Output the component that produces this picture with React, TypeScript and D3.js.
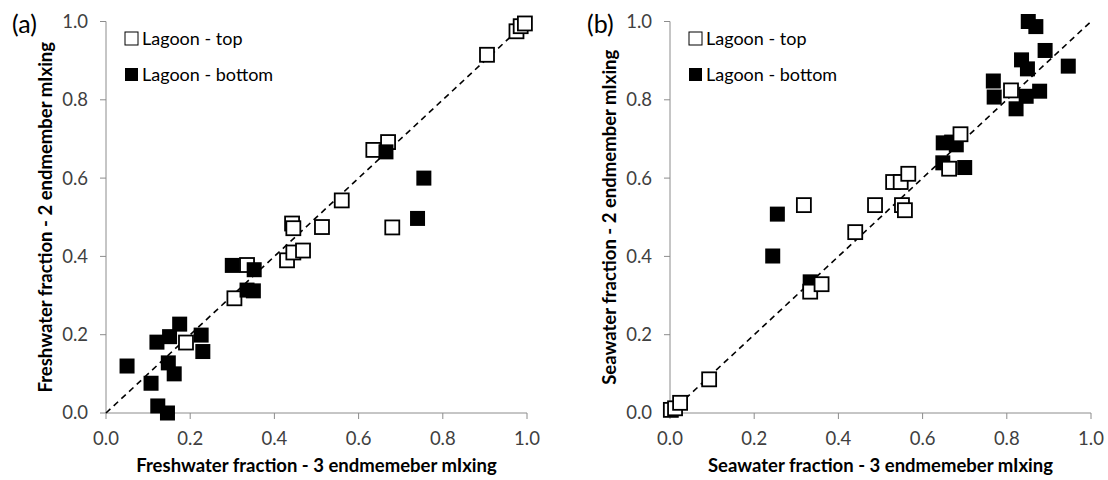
import React from "react";
import * as d3 from "d3";

// panel (a): freshwater fraction, [3 endmember, 2 endmember]
const freshTop: [number, number][] = [
  [0.19, 0.18], [0.305, 0.293], [0.335, 0.378], [0.43, 0.39], [0.445, 0.41],
  [0.468, 0.415], [0.442, 0.484], [0.445, 0.472], [0.513, 0.475], [0.56, 0.543],
  [0.635, 0.672], [0.67, 0.692], [0.68, 0.474], [0.905, 0.915], [0.975, 0.975],
  [0.985, 0.988], [0.995, 0.995],
];
const freshBottom: [number, number][] = [
  [0.05, 0.12], [0.107, 0.076], [0.123, 0.018], [0.146, 0.0], [0.121, 0.181],
  [0.151, 0.195], [0.175, 0.227], [0.148, 0.128], [0.162, 0.1], [0.226, 0.199],
  [0.23, 0.157], [0.3, 0.377], [0.335, 0.314], [0.35, 0.312], [0.352, 0.366],
  [0.665, 0.667], [0.74, 0.497], [0.755, 0.6],
];

// panel (b): seawater fraction
const seaTop: [number, number][] = [
  [0.002, 0.008], [0.012, 0.012], [0.024, 0.026], [0.093, 0.086], [0.333, 0.31],
  [0.36, 0.329], [0.318, 0.531], [0.44, 0.462], [0.487, 0.531], [0.53, 0.59],
  [0.548, 0.59], [0.566, 0.611], [0.551, 0.531], [0.558, 0.518], [0.663, 0.624],
  [0.69, 0.712], [0.81, 0.824],
];
const seaBottom: [number, number][] = [
  [0.244, 0.401], [0.255, 0.508], [0.333, 0.335], [0.649, 0.69], [0.669, 0.692],
  [0.648, 0.639], [0.68, 0.685], [0.7, 0.627], [0.768, 0.848], [0.77, 0.807],
  [0.822, 0.777], [0.846, 0.809], [0.878, 0.822], [0.835, 0.902], [0.849, 0.879],
  [0.851, 1.0], [0.869, 0.987], [0.891, 0.926], [0.946, 0.886],
];

const ticks = [0, 0.2, 0.4, 0.6, 0.8, 1.0];
const legendLabels = ["Lagoon - top", "Lagoon - bottom"];

const FONT = "Lato, 'Open Sans', sans-serif";
const AXIS = "#8c8c8c";
const SQ = 14;

interface PanelProps {
  left: number;
  tag: string;
  tagX: number;
  xTitle: string;
  yTitle: string;
  yTitleX: number;
  top: [number, number][];
  bottom: [number, number][];
  bottomFirst?: boolean;
}

const Panel = ({ left, tag, tagX, xTitle, yTitle, yTitleX, top, bottom, bottomFirst }: PanelProps) => {
  const x = d3.scaleLinear().domain([0, 1]).range([left, left + 421]);
  const y = d3.scaleLinear().domain([0, 1]).range([413, 21.5]);
  const diag = d3.line<number>().x((d) => x(d)).y((d) => y(d));

  const openSquares = top.map((d, i) => (
    <rect key={"t" + i} x={x(d[0]) - SQ / 2} y={y(d[1]) - SQ / 2} width={SQ} height={SQ}
      fill="#fff" stroke="#000" strokeWidth={1.8} />
  ));
  const filledSquares = bottom.map((d, i) => (
    <rect key={"b" + i} x={x(d[0]) - SQ / 2 - 0.5} y={y(d[1]) - SQ / 2 - 0.5} width={SQ + 1} height={SQ + 1}
      fill="#000" />
  ));

  const lx = x(0) + 19;
  return (
    <g fontFamily={FONT}>
      <text x={tagX} y={33} fontSize={25} fill="#000">{tag}</text>

      {/* axes */}
      <line x1={x(0)} x2={x(1)} y1={y(0)} y2={y(0)} stroke={AXIS} strokeWidth={1} />
      <line x1={x(0)} x2={x(0)} y1={y(0)} y2={y(1)} stroke={AXIS} strokeWidth={1} />
      {ticks.map((t) => (
        <g key={"x" + t}>
          <line x1={x(t)} x2={x(t)} y1={y(0)} y2={y(0) + 6} stroke={AXIS} />
          <text x={x(t)} y={445} textAnchor="middle" fontSize={18.5} fill="#404040">{t.toFixed(1)}</text>
        </g>
      ))}
      {ticks.map((t) => (
        <g key={"y" + t}>
          <line x1={x(0) - 6} x2={x(0)} y1={y(t)} y2={y(t)} stroke={AXIS} />
          <text x={x(0) - 18} y={y(t)} dy="0.35em" textAnchor="end" fontSize={18.5} fill="#404040">{t.toFixed(1)}</text>
        </g>
      ))}
      <text x={(x(0) + x(1)) / 2} y={472} textAnchor="middle" fontSize={18.5} fontWeight="bold" fill="#000">{xTitle}</text>
      <text transform={`translate(${yTitleX},${(y(0) + y(1)) / 2}) rotate(-90)`} textAnchor="middle"
        dy="0.35em" fontSize={18.5} fontWeight="bold" fill="#000">{yTitle}</text>

      {/* 1:1 line */}
      <path d={diag([0, 1]) ?? ""} stroke="#000" strokeWidth={1.6} strokeDasharray="6,4.5" fill="none" />

      {bottomFirst ? filledSquares : openSquares}
      {bottomFirst ? openSquares : filledSquares}

      {/* legend */}
      <rect x={lx} y={32} width={13} height={13} fill="#fff" stroke="#000" strokeWidth={1} />
      <text x={lx + 17} y={38.5} dy="0.35em" fontSize={18} fill="#000">{legendLabels[0]}</text>
      <rect x={lx} y={68} width={13} height={13} fill="#000" />
      <text x={lx + 17} y={74.5} dy="0.35em" fontSize={18} fill="#000">{legendLabels[1]}</text>
    </g>
  );
};

const App = () => (
  <div style={{ position: "absolute", left: 0, top: 0 }}>
    <svg width={1108} height={480} viewBox="0 0 1108 480" style={{ display: "block", background: "#fff" }}>
      <Panel left={106} tag="(a)" tagX={12} xTitle="Freshwater fraction - 3 endmemeber mIxing"
        yTitle="Freshwater fraction - 2 endmember mIxing" yTitleX={46} top={freshTop} bottom={freshBottom} />
      <Panel left={670} tag="(b)" tagX={587} xTitle="Seawater fraction  - 3 endmemeber mIxing"
        yTitle="Seawater fraction - 2 endmember mIxing" yTitleX={610} top={seaTop} bottom={seaBottom} bottomFirst />
    </svg>
  </div>
);

export default App;
